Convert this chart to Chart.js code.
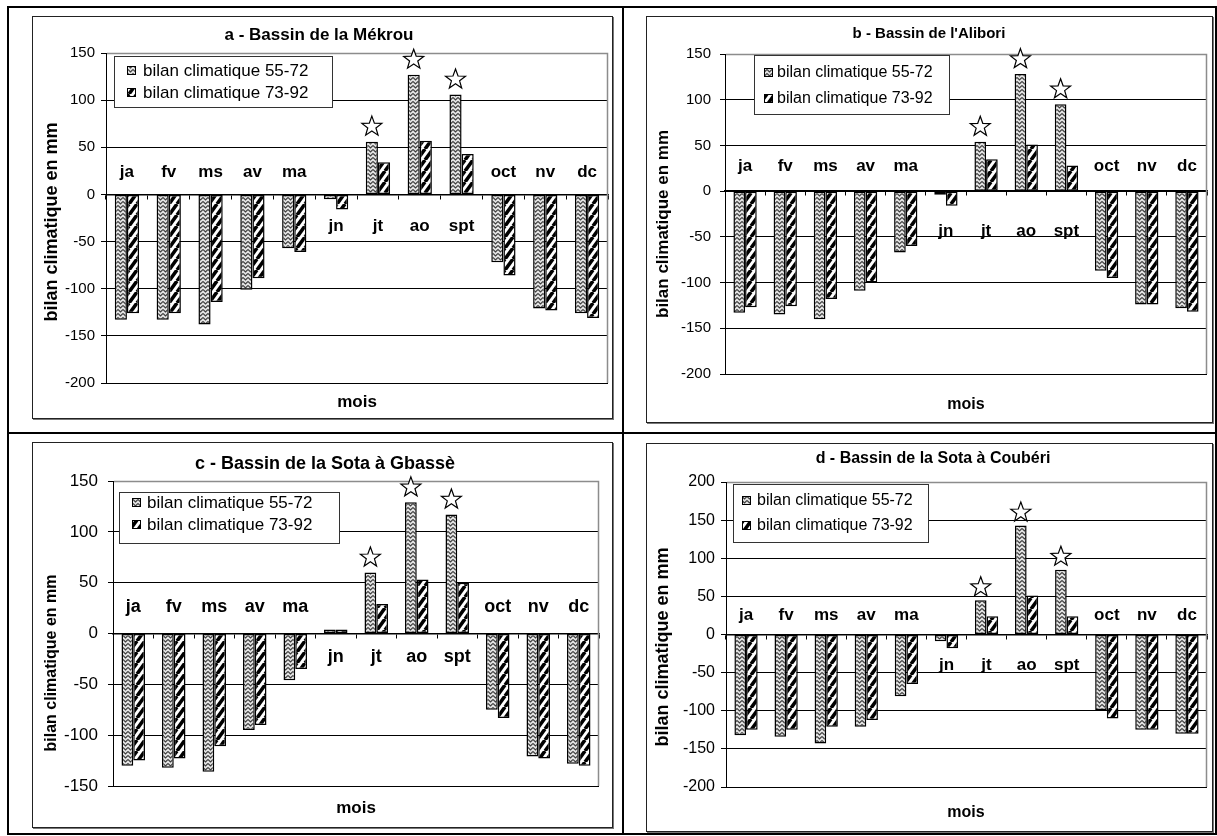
<!DOCTYPE html>
<html lang="fr">
<head>
<meta charset="UTF-8">
<title>Bilan climatique</title>
<script src="https://cdn.jsdelivr.net/npm/chart.js"></script>
<style>
    body { margin: 0; background: #fff; font-family: 'Liberation Sans', Arial, sans-serif; }
    #page { position: relative; width: 1217px; height: 836px; overflow: hidden; }
    .frame { position: absolute; background: #000; }
    .box { position: absolute; box-sizing: border-box; border: 1px solid #222; box-shadow: 1px 1px 0 #777; background: #fff; }
    .box canvas { display: block; }
</style>
</head>
<body>
<div id="page">
    <div class="frame" style="left:7px;top:6px;width:1210px;height:2px"></div>
    <div class="frame" style="left:7px;top:833px;width:1210px;height:2px"></div>
    <div class="frame" style="left:7px;top:6px;width:2px;height:829px"></div>
    <div class="frame" style="left:1215px;top:6px;width:2px;height:829px"></div>
    <div class="frame" style="left:622px;top:6px;width:2px;height:829px"></div>
    <div class="frame" style="left:7px;top:432px;width:1210px;height:2px"></div>
</div>

<script>
const months = ['ja', 'fv', 'ms', 'av', 'ma', 'jn', 'jt', 'ao', 'spt', 'oct', 'nv', 'dc'];
const seriesLabels = ['bilan climatique 55-72', 'bilan climatique 73-92'];
const starMonths = ['jt', 'ao', 'spt'];

// a - Mékrou
const mekrou5572 = [-133, -133, -138, -101, -57, -5, 56, 127, 106, -72, -121, -126];
const mekrou7392 = [-126, -126, -114, -89, -61, -16, 34, 57, 43, -86, -123, -131];
// b - Alibori
const alibori5572 = [-133, -135, -140, -109, -67, -4, 54, 128, 95, -87, -124, -128];
const alibori7392 = [-127, -126, -118, -100, -60, -16, 35, 51, 28, -95, -124, -132];
// c - Sota à Gbassè
const gbasse5572 = [-130, -132, -136, -95, -46, 4, 60, 129, 117, -75, -121, -128];
const gbasse7392 = [-125, -123, -111, -90, -35, 4, 29, 53, 50, -83, -123, -130];
// d - Sota à Coubéri
const couberi5572 = [-132, -134, -143, -121, -81, -9, 45, 143, 85, -99, -125, -130];
const couberi7392 = [-125, -125, -121, -112, -65, -18, 24, 51, 24, -110, -125, -130];

const FONT = "'Liberation Sans', Arial, sans-serif";

const panels = [
    { title: 'a - Bassin de la Mékrou', s1: mekrou5572, s2: mekrou7392, yMin: -200, yMax: 150,
      box: [32, 16, 581, 403], plotLeft: 73, pad: [36, 4, 35], tickFont: 15, tickPad: 6,
      titleFont: 17, titleXY: [286, 18], yTitleFont: 18, yTitleXY: [19, 205], moisFont: 17, moisXY: [324, 385],
      monthFont: 17, above: 22, below: 32, starGap: 15,
      legend: { x: 81, y: 39, w: 218, h: 51, rows: [14, 36], sx: 94, tx: 110, font: 17 } },
    { title: "b - Bassin de l'Alibori", s1: alibori5572, s2: alibori7392, yMin: -200, yMax: 150,
      box: [646, 16, 567, 407], plotLeft: 78, pad: [37, 5, 48], tickFont: 15, tickPad: 9,
      titleFont: 15, titleXY: [282, 17], yTitleFont: 17, yTitleXY: [16, 207], moisFont: 16, moisXY: [319, 388],
      monthFont: 17, above: 25, below: 40, starGap: 15,
      legend: { x: 107, y: 38, w: 195, h: 59, rows: [17, 43], sx: 117, tx: 130, font: 16 } },
    { title: 'c - Bassin de la Sota à Gbassè', s1: gbasse5572, s2: gbasse7392, yMin: -150, yMax: 150,
      box: [32, 442, 581, 386], plotLeft: 80, pad: [38, 13, 41], tickFont: 17, tickPad: 10,
      titleFont: 18, titleXY: [292, 21], yTitleFont: 16, yTitleXY: [19, 220], moisFont: 17, moisXY: [323, 365],
      monthFont: 18, above: 26, below: 24, starGap: 15,
      legend: { x: 86, y: 49, w: 220, h: 51, rows: [10, 32], sx: 99, tx: 114, font: 17 } },
    { title: 'd - Bassin de la Sota à Coubéri', s1: couberi5572, s2: couberi7392, yMin: -200, yMax: 200,
      box: [646, 443, 567, 389], plotLeft: 79, pad: [38, 5, 44], tickFont: 16, tickPad: 6,
      titleFont: 16, titleXY: [286, 15], yTitleFont: 18, yTitleXY: [16, 203], moisFont: 16, moisXY: [319, 369],
      monthFont: 17, above: 19, below: 31, starGap: 13,
      legend: { x: 86, y: 40, w: 195, h: 58, rows: [16, 41], sx: 95, tx: 110, font: 16 } }
];

function makePatterns() {
    // zigzag grey fill for 55-72
    const c1 = document.createElement('canvas');
    c1.width = 5; c1.height = 4;
    const g1 = c1.getContext('2d');
    g1.fillStyle = '#e4e4e4';
    g1.fillRect(0, 0, 5, 4);
    g1.strokeStyle = '#3c3c3c';
    g1.lineWidth = 1.1;
    g1.beginPath();
    g1.moveTo(0, 0.5); g1.lineTo(2.5, 3); g1.lineTo(5, 0.5);
    g1.stroke();

    // wide black diagonal stripes for 73-92
    const c2 = document.createElement('canvas');
    c2.width = 8; c2.height = 11;
    const g2 = c2.getContext('2d');
    g2.fillStyle = '#fff';
    g2.fillRect(0, 0, 8, 11);
    g2.strokeStyle = '#000';
    g2.lineWidth = 3.6;
    for (let k = -1; k <= 1; k++) {
        g2.beginPath();
        g2.moveTo(k * 8, 11);
        g2.lineTo(k * 8 + 8, 0);
        g2.stroke();
    }
    const ctx = document.createElement('canvas').getContext('2d');
    return [ctx.createPattern(c1, 'repeat'), ctx.createPattern(c2, 'repeat')];
}

const patterns = makePatterns();

function drawStar(ctx, cx, cy, r, ri) {
    ctx.beginPath();
    for (let i = 0; i < 10; i++) {
        const rad = i % 2 === 0 ? r : ri;
        const ang = -Math.PI / 2 + i * Math.PI / 5;
        const px = cx + rad * Math.cos(ang), py = cy + rad * Math.sin(ang);
        if (i === 0) ctx.moveTo(px, py); else ctx.lineTo(px, py);
    }
    ctx.closePath();
    ctx.fillStyle = '#fff';
    ctx.fill();
    ctx.strokeStyle = '#000';
    ctx.lineWidth = 1.2;
    ctx.stroke();
}

function makeDeco(p) {
    return {
        id: 'deco',
        afterDraw(chart) {
            const ctx = chart.ctx, a = chart.chartArea;
            const xs = chart.scales.x, ys = chart.scales.y;
            ctx.save();

            // grey plot frame (top, right)
            ctx.strokeStyle = '#8c8c8c';
            ctx.lineWidth = 1.5;
            ctx.beginPath();
            ctx.moveTo(a.left + 1, Math.round(a.top) + 0.5);
            ctx.lineTo(Math.round(a.right) - 0.5, Math.round(a.top) + 0.5);
            ctx.lineTo(Math.round(a.right) - 0.5, Math.round(a.bottom));
            ctx.stroke();

            // month labels near the zero line
            const y0 = ys.getPixelForValue(0);
            ctx.fillStyle = '#000';
            ctx.font = `bold ${p.monthFont}px ${FONT}`;
            ctx.textAlign = 'center';
            ctx.textBaseline = 'middle';
            months.forEach((m, i) => {
                const low = Math.min(p.s1[i], p.s2[i]);
                const ly = low < -30 ? y0 - p.above : y0 + p.below;
                ctx.fillText(m, xs.getPixelForValue(i), ly);
            });

            // stars above the wet-season bars
            const meta = chart.getDatasetMeta(0);
            starMonths.forEach(m => {
                const bar = meta.data[months.indexOf(m)];
                drawStar(ctx, bar.x, bar.y - p.starGap, 10.5, 4.3);
            });

            // legend
            const L = p.legend;
            ctx.fillStyle = '#fff';
            ctx.fillRect(L.x, L.y, L.w, L.h);
            ctx.strokeStyle = '#333';
            ctx.lineWidth = 1;
            ctx.strokeRect(L.x + 0.5, L.y + 0.5, L.w, L.h);
            ctx.font = `${L.font}px ${FONT}`;
            ctx.textAlign = 'left';
            ctx.textBaseline = 'middle';
            seriesLabels.forEach((lab, k) => {
                const ry = L.y + L.rows[k];
                ctx.fillStyle = patterns[k];
                ctx.fillRect(L.sx, Math.round(ry - 4), 9, 9);
                ctx.strokeStyle = '#000';
                ctx.strokeRect(L.sx + 0.5, Math.round(ry - 4) + 0.5, 8, 8);
                ctx.fillStyle = '#000';
                ctx.fillText(lab, L.tx, ry + 1);
            });

            // titles
            ctx.textAlign = 'center';
            ctx.font = `bold ${p.titleFont}px ${FONT}`;
            ctx.fillText(p.title, p.titleXY[0], p.titleXY[1]);
            ctx.font = `bold ${p.moisFont}px ${FONT}`;
            ctx.fillText('mois', p.moisXY[0], p.moisXY[1]);
            ctx.translate(p.yTitleXY[0], p.yTitleXY[1]);
            ctx.rotate(-Math.PI / 2);
            ctx.font = `bold ${p.yTitleFont}px ${FONT}`;
            ctx.fillText('bilan climatique en mm', 0, 0);
            ctx.restore();
        }
    };
}

const page = document.getElementById('page');

panels.forEach(p => {
    const [bx, by, bw, bh] = p.box;
    const box = document.createElement('div');
    box.className = 'box';
    box.style.left = bx + 'px';
    box.style.top = by + 'px';
    box.style.width = bw + 'px';
    box.style.height = bh + 'px';
    const canvas = document.createElement('canvas');
    canvas.width = bw - 2;
    canvas.height = bh - 2;
    box.appendChild(canvas);
    page.appendChild(box);

    new Chart(canvas, {
        type: 'bar',
        data: {
            labels: months,
            datasets: [
                { label: seriesLabels[0], data: p.s1, backgroundColor: patterns[0], borderColor: '#000', borderWidth: 1.5, borderSkipped: false },
                { label: seriesLabels[1], data: p.s2, backgroundColor: patterns[1], borderColor: '#000', borderWidth: 1.5, borderSkipped: false }
            ]
        },
        options: {
            responsive: false,
            animation: false,
            events: [],
            layout: { padding: { left: 0, top: p.pad[0], right: p.pad[1], bottom: p.pad[2] } },
            datasets: { bar: { categoryPercentage: 0.58, barPercentage: 1 } },
            plugins: { legend: { display: false }, title: { display: false }, tooltip: { enabled: false } },
            scales: {
                x: {
                    type: 'category',
                    position: { y: 0 },
                    offset: true,
                    grid: { offset: true, drawOnChartArea: false, drawTicks: true, tickLength: 4, color: '#000', lineWidth: 1 },
                    border: { display: true, color: '#000', width: 1.5 },
                    ticks: { display: false }
                },
                y: {
                    position: 'left',
                    min: p.yMin,
                    max: p.yMax,
                    afterFit: s => { s.width = p.plotLeft; },
                    ticks: { stepSize: 50, color: '#000', padding: p.tickPad, font: { family: FONT, size: p.tickFont } },
                    grid: { color: '#000', lineWidth: 1, tickLength: 5, drawTicks: true },
                    border: { display: true, color: '#000', width: 1 }
                }
            }
        },
        plugins: [makeDeco(p)]
    });
});
</script>
</body>
</html>
